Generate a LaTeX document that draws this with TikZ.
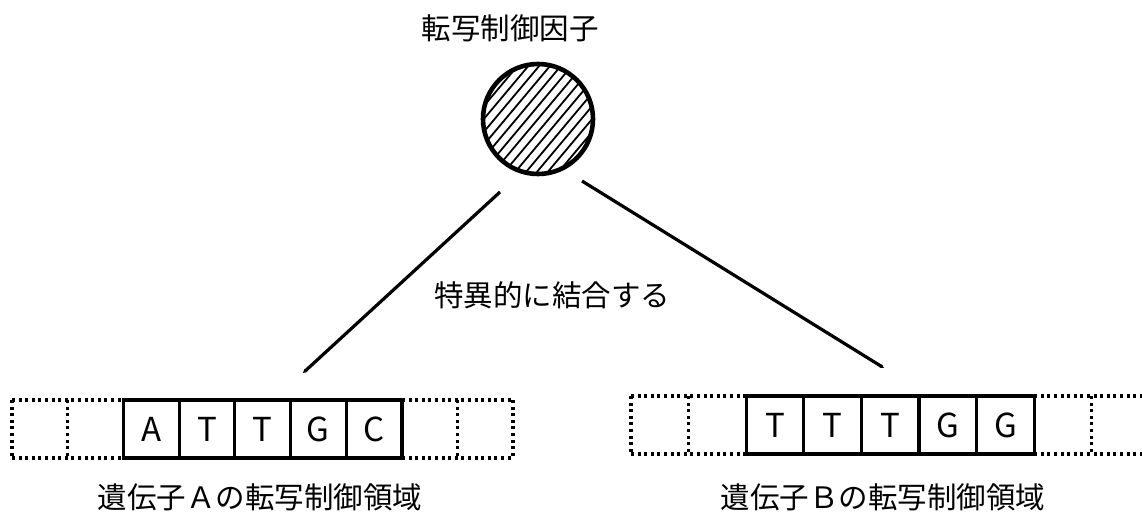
\documentclass[tikz,border=0pt]{standalone}
\usepackage{fontspec}
\setmainfont{Noto Sans CJK JP}
\usetikzlibrary{arrows.meta}
\begin{document}
\begin{tikzpicture}[x=1pt,y=-1pt,
  lab/.style={font=\fontsize{29.5}{34}\selectfont, inner sep=0pt},
  cellL/.style={draw, line width=3.2pt, minimum width=55.7pt, minimum height=58pt, inner sep=0pt, font=\fontsize{33}{36}\selectfont},
  cellR/.style={draw, line width=3.2pt, minimum width=57.6pt, minimum height=58pt, inner sep=0pt, font=\fontsize{33}{36}\selectfont},
  dotline/.style={line width=3.2pt, dash pattern=on 3pt off 3.6pt},
  conn/.style={line width=3.2pt, -{Stealth[length=4pt,width=4pt]}},
  hatch/.style={line width=1.8pt}]
\useasboundingbox (0,0) rectangle (1142,513);

% title and factor
\node[lab] (title) at (510,28) {転写制御因子};
\begin{scope}
  \clip (538,119) circle (55pt);
  \foreach \k in {-8,...,8}
    \draw[hatch] ({538+\k*8.3*0.766-80*0.643},{119+\k*8.3*0.643+80*0.766}) -- ({538+\k*8.3*0.766+80*0.643},{119+\k*8.3*0.643-80*0.766});
\end{scope}
\node[circle, draw, line width=4.6pt, minimum size=110pt, inner sep=0pt] (circ) at (538,119) {};

% left strip
\foreach \t [count=\i] in {A,T,T,G,C}
  \node[cellL] (la\i) at ({123.4+55.7*(\i-0.5)},429) {\t};
\draw[dotline] (12,400) -- (123.4,400);
\draw[dotline] (12,458) -- (123.4,458);
\draw[dotline] (401.9,400) -- (513,400);
\draw[dotline] (401.9,458) -- (513,458);
\draw[dotline] (12,400) -- (12,458);
\draw[dotline] (67.7,400) -- (67.7,458);
\draw[dotline] (457.6,400) -- (457.6,458);
\draw[dotline] (513,400) -- (513,458);

% right strip
\foreach \t [count=\i] in {T,T,T,G,G}
  \node[cellR] (rb\i) at ({746.2+57.6*(\i-0.5)},425) {\t};
\draw[dotline] (631,396) -- (746.2,396);
\draw[dotline] (631,454) -- (746.2,454);
\draw[dotline] (1034.2,396) -- (1142,396);
\draw[dotline] (1034.2,454) -- (1142,454);
\draw[dotline] (631,396) -- (631,454);
\draw[dotline] (688.6,396) -- (688.6,454);
\draw[dotline] (1091.8,396) -- (1091.8,454);

% connectors
\coordinate (lstart) at (500,192);
\coordinate (lend) at (303,373);
\coordinate (rstart) at (582,181);
\coordinate (rend) at (884,368);
\draw[conn] (lstart) -- (lend);
\draw[conn] (rstart) -- (rend);

% labels
\node[lab] (bind) at (552,295) {特異的に結合する};
\node[lab] (genA) at (260,497) {遺伝子Ａの転写制御領域};
\node[lab] (genB) at (883,497) {遺伝子Ｂの転写制御領域};
\end{tikzpicture}
\end{document}
